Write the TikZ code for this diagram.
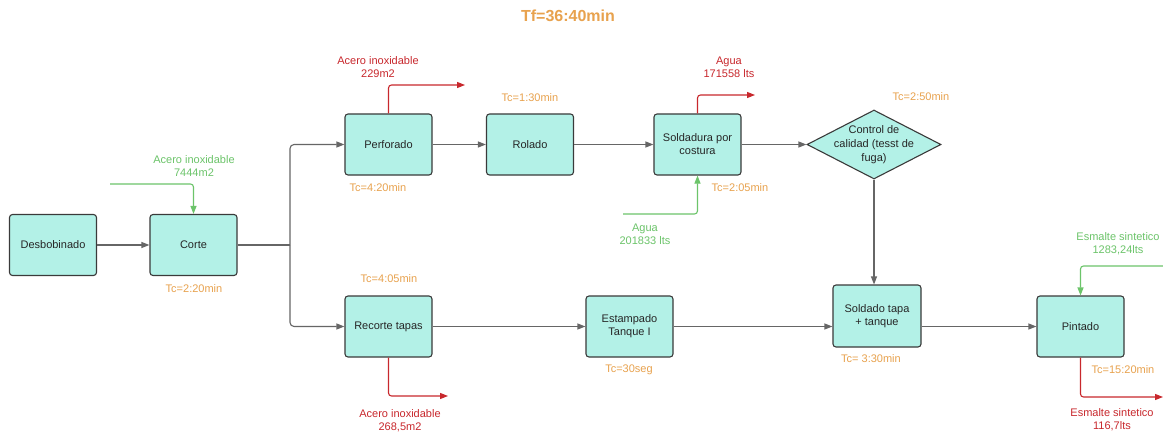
\documentclass[tikz,border=0pt]{standalone}
\usepackage{fontspec}
\setmainfont{Liberation Sans}
\usetikzlibrary{arrows.meta,shapes.geometric}
\definecolor{boxfill}{HTML}{B3F1E7}
\definecolor{boxline}{HTML}{3A3A3A}
\definecolor{flowgray}{HTML}{666666}
\definecolor{tcorange}{HTML}{E8A24E}
\definecolor{ingreen}{HTML}{6CC46A}
\definecolor{outred}{HTML}{C8282D}
\tikzset{
  stepbox/.style={draw=boxline, line width=1.1pt, fill=boxfill, rounded corners=3pt,
    minimum width=87pt, minimum height=61pt, inner sep=2pt, align=center,
    font=\fontsize{11}{13}\selectfont, text=black!85},
  flow/.style={draw=flowgray, line width=1.1pt, rounded corners=4pt,
    -{Triangle[length=8pt,width=6pt]}},
  inflow/.style={draw=ingreen, line width=1.1pt, rounded corners=3pt,
    -{Triangle[length=8pt,width=6pt]}},
  outflow/.style={draw=outred, line width=1.1pt, rounded corners=3pt,
    -{Triangle[length=8pt,width=6pt]}},
  tc/.style={text=tcorange, font=\fontsize{11}{13}\selectfont, inner sep=0pt},
  inlab/.style={text=ingreen, align=center, font=\fontsize{11}{13}\selectfont, inner sep=0pt},
  outlab/.style={text=outred, align=center, font=\fontsize{11}{13}\selectfont, inner sep=0pt},
}
\begin{document}
\begin{tikzpicture}[x=1pt,y=-1pt]
\useasboundingbox[fill=white] (0,0) rectangle (1163,436);

% title
\node[text=tcorange, font=\fontsize{16}{18}\bfseries\selectfont] (title) at (568,16) {Tf=36:40min};

% process steps
\node[stepbox] (desb) at (53,245) {Desbobinado};
\node[stepbox] (corte) at (193.5,245) {Corte};
\node[stepbox] (perf) at (388.5,144.5) {Perforado};
\node[stepbox] (rol) at (530,144.5) {Rolado};
\node[stepbox] (sol) at (697.5,144.5) {Soldadura por\\costura};
\node[draw=boxline, line width=1.1pt, fill=boxfill, diamond, minimum width=134pt,
      minimum height=69pt, inner sep=0pt] (qc) at (874,144.5) {};
\node[align=center, font=\fontsize{11}{14}\selectfont, text=black!85] (qctext) at (qc.center) {Control de\\calidad (tesst de\\fuga)};
\node[stepbox] (rec) at (388.5,326.5) {Recorte tapas};
\node[stepbox] (est) at (629.5,326.5) {Estampado\\Tanque I};
\node[stepbox, minimum width=88pt, minimum height=62pt] (sold) at (877,316) {Soldado tapa\\+ tanque};
\node[stepbox] (pin) at (1080.5,326.5) {Pintado};

% cycle times
\node[tc] (tc1) at (194,289) {Tc=2:20min};
\node[tc] (tc2) at (378,188) {Tc=4:20min};
\node[tc] (tc3) at (530,98) {Tc=1:30min};
\node[tc] (tc4) at (740,188) {Tc=2:05min};
\node[tc] (tc5) at (921,97) {Tc=2:50min};
\node[tc] (tc6) at (389,279) {Tc=4:05min};
\node[tc] (tc7) at (629,370) {Tc=30seg};
\node[tc] (tc8) at (871,359) {Tc= 3:30min};
\node[tc] (tc9) at (1123,370) {Tc=15:20min};

% material inputs and outputs
\node[inlab] (lin1) at (194,166) {Acero inoxidable\\7444m2};
\node[outlab] (lout1) at (378,67.5) {Acero inoxidable\\229m2};
\node[outlab] (lout2) at (729,67.5) {Agua\\171558 lts};
\node[inlab] (lin2) at (645,234) {Agua\\201833 lts};
\node[outlab] (lout3) at (400,420.5) {Acero inoxidable\\268,5m2};
\node[inlab] (lin3) at (1118,244) {Esmalte sintetico\\1283,24lts};
\node[outlab] (lout4) at (1112,420) {Esmalte sintetico\\116,7lts};

\coordinate (in1) at (110,184);
\coordinate (o1) at (465,85);
\coordinate (o2) at (755,95);
\coordinate (in2) at (623,214);
\coordinate (o3) at (448,396);
\coordinate (in3) at (1163,266);
\coordinate (o4) at (1163,397);
\coordinate (split) at (290,245);

% main flow
\draw[flow] (desb) -- (corte);
\draw[draw=flowgray, line width=1.1pt] (corte.east) -- (split);
\draw[flow] (split) |- (perf.west);
\draw[flow] (split) |- (rec.west);
\draw[flow] (perf) -- (rol);
\draw[flow] (rol) -- (sol);
\draw[flow] (sol) -- (qc.west);
\draw[flow] (qc.south) -- (qc.south |- sold.north);
\draw[flow] (rec) -- (est);
\draw[flow] (est.east) -- (est.east -| sold.west);
\draw[flow] (sold.east |- pin.west) -- (pin.west);

% material streams
\draw[inflow] (in1) -| (corte.north);
\draw[outflow] (perf.north) |- (o1);
\draw[outflow] (sol.north) |- (o2);
\draw[inflow] (in2) -| (sol.south);
\draw[outflow] (rec.south) |- (o3);
\draw[inflow] (in3) -| (pin.north);
\draw[outflow] (pin.south) |- (o4);
\end{tikzpicture}
\end{document}
